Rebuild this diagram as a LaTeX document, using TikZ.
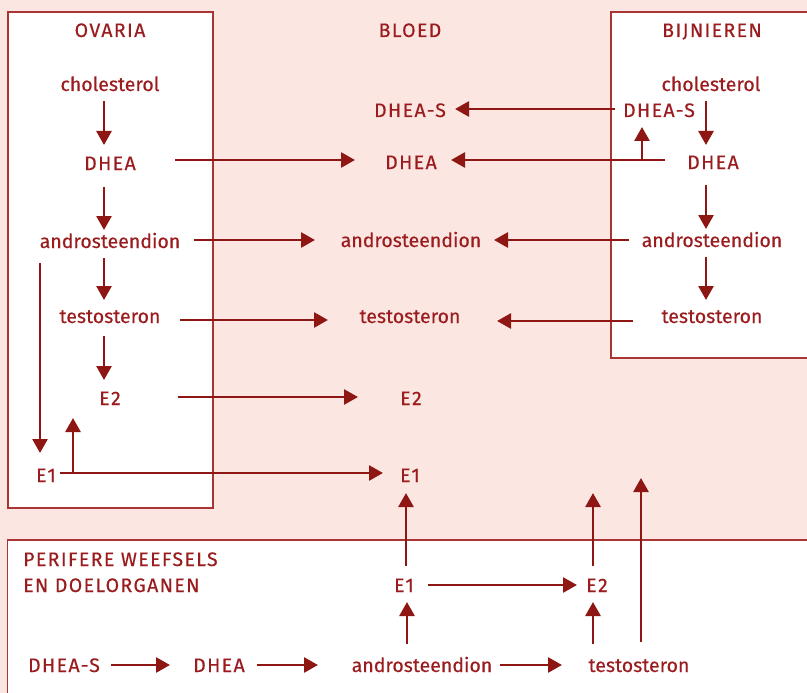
\documentclass[tikz,border=0pt]{standalone}
\usepackage{fontspec}
\setmainfont{Fira Sans}[FakeBold=0.35]
\usetikzlibrary{arrows.meta}
\definecolor{bgpink}{HTML}{FBE6E1}
\definecolor{dred}{HTML}{8E1714}
\definecolor{tred}{HTML}{9B1C1E}
\definecolor{bred}{HTML}{A83434}
\tikzset{
  lbl/.style={anchor=base, inner sep=0pt, text=tred, font=\fontsize{19.5}{22}\selectfont},
  caps/.style={lbl, font=\fontsize{19.5}{22}\selectfont\addfontfeatures{LetterSpace=7}},
  capsw/.style={caps, anchor=base west},
  arr/.style={draw=dred, line width=2.7pt, -{Triangle[length=14pt,width=15pt]}},
  boxframe/.style={draw=bred, line width=1.3pt, fill=white}
}
\begin{document}
\begin{tikzpicture}[x=1pt,y=-1pt]
\useasboundingbox (0,0) rectangle (807,693);
\fill[bgpink] (0,0) rectangle (807,693);
% boxes
\path[boxframe] (8,12) rectangle (213,508);
\path[boxframe] (611,12) rectangle (830,358);
\path[boxframe] (7.7,540) rectangle (830,720);
% ovaria
\node[caps] (ovT) at (110,37) {OVARIA};
\node[lbl] (ovChol) at (110,91) {cholesterol};
\node[caps] (ovDHEA) at (110,170) {DHEA};
\node[lbl] (ovAnd) at (110,248) {androsteendion};
\node[lbl] (ovTes) at (110,323) {testosteron};
\node[caps] (ovE2) at (110,405) {E2};
\node[caps] (ovE1) at (46,482) {E1};
% bloed
\node[caps] (blT) at (410,37) {BLOED};
\node[caps] (blDHEAS) at (410,117) {DHEA-S};
\node[caps] (blDHEA) at (411,169) {DHEA};
\node[lbl] (blAnd) at (411,247) {androsteendion};
\node[lbl] (blTes) at (410,323) {testosteron};
\node[caps] (blE2) at (411,405) {E2};
\node[caps] (blE1) at (410,482) {E1};
% bijnieren
\node[caps] (bjT) at (712,37) {BIJNIEREN};
\node[lbl] (bjChol) at (711,91) {cholesterol};
\node[caps] (bjDHEAS) at (659,117) {DHEA-S};
\node[caps] (bjDHEA) at (713,169) {DHEA};
\node[lbl] (bjAnd) at (712,247) {androsteendion};
\node[lbl] (bjTes) at (712,323) {testosteron};
% perifere
\node[capsw] (peT1) at (23,566) {PERIFERE WEEFSELS};
\node[capsw] (peT2) at (23,592) {EN DOELORGANEN};
\node[caps] (peE1) at (404,592) {E1};
\node[caps] (peE2) at (597,592) {E2};
\node[caps] (peDHEAS) at (64,672) {DHEA-S};
\node[caps] (peDHEA) at (219,672) {DHEA};
\node[lbl] (peAnd) at (422,672) {androsteendion};
\node[lbl] (peTes) at (639,672) {testosteron};
\coordinate (tipE2) at (593,493);
\coordinate (tipTes) at (641,478);
% ovaria arrows
\draw[arr] ([shift={(-6,10)}]ovChol.base) -- ([shift={(-6,-25)}]ovDHEA.base);
\draw[arr] ([shift={(-6,17)}]ovDHEA.base) -- ([shift={(-6,-18)}]ovAnd.base);
\draw[arr] ([shift={(-6,10)}]ovAnd.base) -- ([shift={(-6,-23)}]ovTes.base);
\draw[arr] ([shift={(-6,13)}]ovTes.base) -- ([shift={(-6,-25)}]ovE2.base);
\draw[arr] ([shift={(-70,15)}]ovAnd.base) -- ([shift={(-6,-29)}]ovE1.base);
\draw[arr] ([shift={(27,-9)}]ovE1.base) -- ([shift={(-37,13)}]ovE2.base);
\draw[arr] ([shift={(14,-9)}]ovE1.base) -- ([shift={(-27,-9)}]blE1.base);
\draw[arr] ([shift={(65,-10)}]ovDHEA.base) -- ([shift={(-56,-9)}]blDHEA.base);
\draw[arr] ([shift={(84,-8)}]ovAnd.base) -- ([shift={(-96,-7)}]blAnd.base);
\draw[arr] ([shift={(70,-3)}]ovTes.base) -- ([shift={(-82,-3)}]blTes.base);
\draw[arr] ([shift={(68,-8)}]ovE2.base) -- ([shift={(-53,-8)}]blE2.base);
% bijnieren arrows
\draw[arr] ([shift={(-44,-8)}]bjDHEAS.base) -- ([shift={(45,-8)}]blDHEAS.base);
\draw[arr] ([shift={(-48,-9)}]bjDHEA.base) -- ([shift={(40,-9)}]blDHEA.base);
\draw[arr] ([shift={(-71,-9)}]bjDHEA.base) -- ([shift={(-17,10)}]bjDHEAS.base);
\draw[arr] ([shift={(-83,-7)}]bjAnd.base) -- ([shift={(83,-7)}]blAnd.base);
\draw[arr] ([shift={(-79,-2)}]bjTes.base) -- ([shift={(87,-2)}]blTes.base);
\draw[arr] ([shift={(-5,10)}]bjChol.base) -- ([shift={(-7,-24)}]bjDHEA.base);
\draw[arr] ([shift={(-7,16)}]bjDHEA.base) -- ([shift={(-6,-18)}]bjAnd.base);
\draw[arr] ([shift={(-6,10)}]bjAnd.base) -- ([shift={(-6,-23)}]bjTes.base);
% perifere arrows
\draw[arr] ([shift={(2,-26)}]peE1.base) -- ([shift={(-4,11)}]blE1.base);
\draw[arr] ([shift={(-4,-26)}]peE2.base) -- (tipE2);
\draw[arr] ([shift={(2,-30)}]peTes.base) -- (tipTes);
\draw[arr] ([shift={(-15,-28)}]peAnd.base) -- ([shift={(3,10)}]peE1.base);
\draw[arr] ([shift={(-46,-28)}]peTes.base) -- ([shift={(-4,10)}]peE2.base);
\draw[arr] ([shift={(24,-7)}]peE1.base) -- ([shift={(-20,-7)}]peE2.base);
\draw[arr] ([shift={(47,-7)}]peDHEAS.base) -- ([shift={(-49,-7)}]peDHEA.base);
\draw[arr] ([shift={(38,-7)}]peDHEA.base) -- ([shift={(-104,-7)}]peAnd.base);
\draw[arr] ([shift={(78,-7)}]peAnd.base) -- ([shift={(-77,-7)}]peTes.base);
\end{tikzpicture}
\end{document}
